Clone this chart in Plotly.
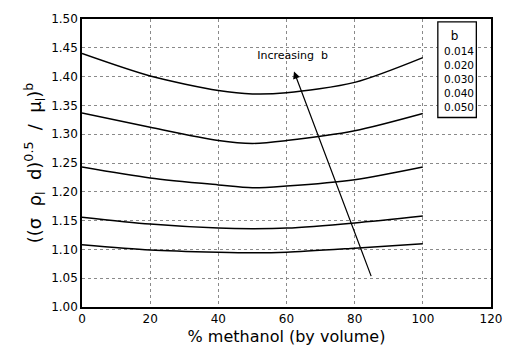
import plotly.graph_objects as go

# % methanol (by volume)
methanol = [0, 20, 40, 50, 60, 80, 100]

# ((sigma rho_l d)^0.5 / mu_l)^b for each exponent b
b_values = ["0.014", "0.020", "0.030", "0.040", "0.050"]
series = {
    "0.014": [1.108, 1.099, 1.095, 1.094, 1.095, 1.102, 1.110],
    "0.020": [1.156, 1.144, 1.137, 1.136, 1.137, 1.146, 1.158],
    "0.030": [1.243, 1.224, 1.212, 1.207, 1.210, 1.221, 1.243],
    "0.040": [1.337, 1.312, 1.289, 1.284, 1.289, 1.306, 1.336],
    "0.050": [1.440, 1.401, 1.376, 1.370, 1.372, 1.390, 1.433],
}

x_ticks = [0, 20, 40, 60, 80, 100, 120]
y_ticks = [1.00, 1.05, 1.10, 1.15, 1.20, 1.25, 1.30, 1.35, 1.40, 1.45, 1.50]

FONT = "DejaVu Sans"

fig = go.Figure()
for b in b_values:
    fig.add_trace(go.Scatter(
        x=methanol, y=series[b], mode="lines", name=b,
        line=dict(color="black", width=1.5, shape="spline", smoothing=0.8),
        showlegend=False, hoverinfo="skip",
    ))

# arrow showing the direction of increasing b
fig.add_annotation(
    x=62.2, y=1.409, ax=85, ay=1.051, xref="x", yref="y", axref="x", ayref="y",
    showarrow=True, arrowhead=2, arrowsize=1.2, arrowwidth=1.2, arrowcolor="black",
    text="",
)
fig.add_trace(go.Scatter(
    x=[61.8], y=[1.436], mode="text", text=["Increasing  b"],
    textposition="middle center", textfont=dict(family=FONT, size=11, color="black"),
    showlegend=False, hoverinfo="skip",
))

# key box listing the b values (white box drawn between grid and traces)
fig.add_shape(type="rect", xref="x", yref="y",
              x0=104.4, x1=115.7, y0=1.329, y1=1.495,
              line=dict(color="black", width=1.3), fillcolor="white", layer="between")
key_y = [1.442, 1.418, 1.394, 1.370, 1.344]
fig.add_trace(go.Scatter(
    x=[109.3], y=[1.469], mode="text", text=["b"],
    textposition="middle center", textfont=dict(family=FONT, size=12, color="black"),
    showlegend=False, hoverinfo="skip",
))
fig.add_trace(go.Scatter(
    x=[106.2] * len(b_values), y=key_y, mode="text", text=b_values,
    textposition="middle right", textfont=dict(family=FONT, size=10.5, color="black"),
    showlegend=False, hoverinfo="skip",
))

axis_common = dict(
    showline=True, linecolor="black", linewidth=1.5, mirror=True,
    showgrid=True, gridcolor="#8a8a8a", gridwidth=1, griddash="dot",
    ticks="", zeroline=False,
    tickfont=dict(family=FONT, size=12, color="black"),
)

fig.update_xaxes(
    range=[0, 120], tickvals=x_ticks,
    title=dict(text="% methanol (by volume)", font=dict(family=FONT, size=16, color="black"), standoff=6),
    **axis_common,
)
fig.update_yaxes(
    range=[1.0, 1.5], tickvals=y_ticks, tickformat=".2f",
    title=dict(text="((σ  ρ<sub>l</sub>  d)<sup>0.5</sup>  /  μ<sub>l</sub>)<sup>b</sup>",
               font=dict(family=FONT, size=18, color="black"), standoff=5),
    **axis_common,
)

fig.update_layout(
    width=514, height=355,
    margin=dict(l=82, r=17, t=15, b=48),
    plot_bgcolor="white", paper_bgcolor="white",
)

fig.write_html("out.html")
